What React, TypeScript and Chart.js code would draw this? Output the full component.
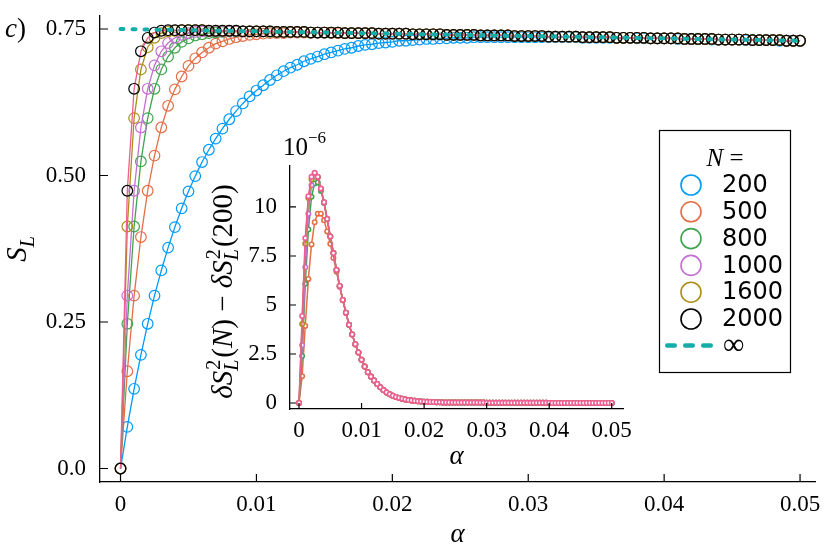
import React, { useEffect, useRef } from "react";
import { Chart, registerables } from "chart.js";

Chart.register(...registerables);

// ---------------- data ----------------
const ALPHA = [
  0, 0.0005, 0.001, 0.0015, 0.002, 0.0025, 0.003, 0.0035, 0.004, 0.0045,
  0.005, 0.0055, 0.006, 0.0065, 0.007, 0.0075, 0.008, 0.0085, 0.009, 0.0095,
  0.01, 0.0105, 0.011, 0.0115, 0.012, 0.0125, 0.013, 0.0135, 0.014, 0.0145,
  0.015, 0.0155, 0.016, 0.0165, 0.017, 0.0175, 0.018, 0.0185, 0.019, 0.0195,
  0.02, 0.0205, 0.021, 0.0215, 0.022, 0.0225, 0.023, 0.0235, 0.024, 0.0245,
  0.025, 0.0255, 0.026, 0.0265, 0.027, 0.0275, 0.028, 0.0285, 0.029, 0.0295,
  0.03, 0.0305, 0.031, 0.0315, 0.032, 0.0325, 0.033, 0.0335, 0.034, 0.0345,
  0.035, 0.0355, 0.036, 0.0365, 0.037, 0.0375, 0.038, 0.0385, 0.039, 0.0395,
  0.04, 0.0405, 0.041, 0.0415, 0.042, 0.0425, 0.043, 0.0435, 0.044, 0.0445,
  0.045, 0.0455, 0.046, 0.0465, 0.047, 0.0475, 0.048, 0.0485, 0.049, 0.0495,
  0.05,
];

const S_200 = [
  0, 0.071, 0.136, 0.194, 0.247, 0.295, 0.338, 0.377, 0.412, 0.444,
  0.473, 0.499, 0.523, 0.544, 0.563, 0.58, 0.596, 0.61, 0.623, 0.635,
  0.645, 0.654, 0.663, 0.671, 0.678, 0.684, 0.689, 0.695, 0.699, 0.703,
  0.707, 0.71, 0.713, 0.716, 0.718, 0.721, 0.723, 0.724, 0.726, 0.727,
  0.728, 0.73, 0.73, 0.731, 0.732, 0.733, 0.733, 0.734, 0.734, 0.735,
  0.735, 0.735, 0.736, 0.736, 0.736, 0.736, 0.736, 0.736, 0.736, 0.736,
  0.736, 0.736, 0.736, 0.736, 0.736, 0.736, 0.736, 0.736, 0.735, 0.735,
  0.735, 0.735, 0.735, 0.735, 0.735, 0.735, 0.734, 0.734, 0.734, 0.734,
  0.734, 0.734, 0.733, 0.733, 0.733, 0.733, 0.733, 0.732, 0.732, 0.732,
  0.732, 0.732, 0.731, 0.731, 0.731, 0.731, 0.731, 0.73, 0.73, 0.73,
  0.73,
];

const S_500 = [
  0, 0.166, 0.295, 0.395, 0.474, 0.534, 0.582, 0.619, 0.647, 0.669,
  0.687, 0.7, 0.71, 0.718, 0.725, 0.729, 0.733, 0.736, 0.738, 0.74,
  0.741, 0.742, 0.743, 0.743, 0.743, 0.744, 0.744, 0.744, 0.744, 0.744,
  0.744, 0.743, 0.743, 0.743, 0.743, 0.743, 0.743, 0.742, 0.742, 0.742,
  0.742, 0.742, 0.742, 0.741, 0.741, 0.741, 0.741, 0.741, 0.74, 0.74,
  0.74, 0.74, 0.74, 0.739, 0.739, 0.739, 0.739, 0.739, 0.738, 0.738,
  0.738, 0.738, 0.738, 0.737, 0.737, 0.737, 0.737, 0.737, 0.736, 0.736,
  0.736, 0.736, 0.736, 0.735, 0.735, 0.735, 0.735, 0.735, 0.734, 0.734,
  0.734, 0.734, 0.734, 0.733, 0.733, 0.733, 0.733, 0.733, 0.732, 0.732,
  0.732, 0.732, 0.732, 0.731, 0.731, 0.731, 0.731, 0.731, 0.73, 0.73,
  0.73,
];

const S_800 = [
  0, 0.247, 0.413, 0.524, 0.598, 0.648, 0.681, 0.703, 0.718, 0.728,
  0.734, 0.739, 0.741, 0.743, 0.744, 0.745, 0.746, 0.746, 0.746, 0.746,
  0.746, 0.746, 0.745, 0.745, 0.745, 0.745, 0.745, 0.745, 0.744, 0.744,
  0.744, 0.744, 0.744, 0.743, 0.743, 0.743, 0.743, 0.743, 0.742, 0.742,
  0.742, 0.742, 0.742, 0.741, 0.741, 0.741, 0.741, 0.741, 0.74, 0.74,
  0.74, 0.74, 0.74, 0.739, 0.739, 0.739, 0.739, 0.739, 0.738, 0.738,
  0.738, 0.738, 0.738, 0.737, 0.737, 0.737, 0.737, 0.737, 0.736, 0.736,
  0.736, 0.736, 0.736, 0.735, 0.735, 0.735, 0.735, 0.735, 0.734, 0.734,
  0.734, 0.734, 0.734, 0.733, 0.733, 0.733, 0.733, 0.733, 0.732, 0.732,
  0.732, 0.732, 0.732, 0.731, 0.731, 0.731, 0.731, 0.731, 0.73, 0.73,
  0.73,
];

const S_1000 = [
  0, 0.295, 0.474, 0.582, 0.648, 0.688, 0.712, 0.726, 0.735, 0.74,
  0.743, 0.745, 0.746, 0.746, 0.746, 0.746, 0.746, 0.746, 0.746, 0.746,
  0.746, 0.746, 0.746, 0.745, 0.745, 0.745, 0.745, 0.745, 0.744, 0.744,
  0.744, 0.744, 0.744, 0.743, 0.743, 0.743, 0.743, 0.743, 0.742, 0.742,
  0.742, 0.742, 0.742, 0.741, 0.741, 0.741, 0.741, 0.741, 0.74, 0.74,
  0.74, 0.74, 0.74, 0.739, 0.739, 0.739, 0.739, 0.739, 0.738, 0.738,
  0.738, 0.738, 0.738, 0.737, 0.737, 0.737, 0.737, 0.737, 0.736, 0.736,
  0.736, 0.736, 0.736, 0.735, 0.735, 0.735, 0.735, 0.735, 0.734, 0.734,
  0.734, 0.734, 0.734, 0.733, 0.733, 0.733, 0.733, 0.733, 0.732, 0.732,
  0.732, 0.732, 0.732, 0.731, 0.731, 0.731, 0.731, 0.731, 0.73, 0.73,
  0.73,
];

const S_1600 = [
  0, 0.413, 0.598, 0.681, 0.719, 0.735, 0.743, 0.746, 0.747, 0.748,
  0.748, 0.748, 0.748, 0.747, 0.747, 0.747, 0.747, 0.747, 0.746, 0.746,
  0.746, 0.746, 0.746, 0.745, 0.745, 0.745, 0.745, 0.745, 0.744, 0.744,
  0.744, 0.744, 0.744, 0.743, 0.743, 0.743, 0.743, 0.743, 0.742, 0.742,
  0.742, 0.742, 0.742, 0.741, 0.741, 0.741, 0.741, 0.741, 0.74, 0.74,
  0.74, 0.74, 0.74, 0.739, 0.739, 0.739, 0.739, 0.739, 0.738, 0.738,
  0.738, 0.738, 0.738, 0.737, 0.737, 0.737, 0.737, 0.737, 0.736, 0.736,
  0.736, 0.736, 0.736, 0.735, 0.735, 0.735, 0.735, 0.735, 0.734, 0.734,
  0.734, 0.734, 0.734, 0.733, 0.733, 0.733, 0.733, 0.733, 0.732, 0.732,
  0.732, 0.732, 0.732, 0.731, 0.731, 0.731, 0.731, 0.731, 0.73, 0.73,
  0.73,
];

const S_2000 = [
  0, 0.474, 0.648, 0.712, 0.735, 0.744, 0.747, 0.748, 0.748, 0.748,
  0.748, 0.748, 0.748, 0.747, 0.747, 0.747, 0.747, 0.747, 0.746, 0.746,
  0.746, 0.746, 0.746, 0.745, 0.745, 0.745, 0.745, 0.745, 0.744, 0.744,
  0.744, 0.744, 0.744, 0.743, 0.743, 0.743, 0.743, 0.743, 0.742, 0.742,
  0.742, 0.742, 0.742, 0.741, 0.741, 0.741, 0.741, 0.741, 0.74, 0.74,
  0.74, 0.74, 0.74, 0.739, 0.739, 0.739, 0.739, 0.739, 0.738, 0.738,
  0.738, 0.738, 0.738, 0.737, 0.737, 0.737, 0.737, 0.737, 0.736, 0.736,
  0.736, 0.736, 0.736, 0.735, 0.735, 0.735, 0.735, 0.735, 0.734, 0.734,
  0.734, 0.734, 0.734, 0.733, 0.733, 0.733, 0.733, 0.733, 0.732, 0.732,
  0.732, 0.732, 0.732, 0.731, 0.731, 0.731, 0.731, 0.731, 0.73, 0.73,
  0.73,
];

const INF_ALPHA = [0, 0.01, 0.02, 0.03, 0.04, 0.05];
const S_INF = [0.75, 0.746, 0.742, 0.738, 0.734, 0.73];

// inset: (δS_L^2(N) − δS_L^2(200)) in units of 1e-6
const D_500 = [
  0, 1.37, 3.93, 6.33, 8.09, 9.22, 9.66, 9.66, 9.32, 8.75,
  8.12, 7.4, 6.7, 5.93, 5.24, 4.6, 3.98, 3.49, 2.99, 2.57,
  2.2, 1.86, 1.57, 1.35, 1.15, 0.97, 0.8, 0.66, 0.54, 0.45,
  0.37, 0.31, 0.26, 0.22, 0.18, 0.15, 0.13, 0.11, 0.09, 0.08,
  0.07, 0.06, 0.05, 0.05, 0.04, 0.04, 0.03, 0.03, 0.03, 0.02,
  0.02, 0.02, 0.02, 0.02, 0.02, 0.02, 0.02, 0.02, 0.02, 0.02,
  0.01, 0.01, 0.01, 0.01, 0.01, 0.01, 0.01, 0.01, 0.01, 0.01,
  0.01, 0.01, 0.01, 0.01, 0.01, 0.01, 0.01, 0.01, 0.01, 0.01,
  0, 0, 0, 0, 0, 0, 0, 0, 0, 0,
  0, 0, 0, 0, 0, 0, 0, 0, 0, 0,
  0,
];

const D_800 = [
  0, 2.4, 6.08, 8.85, 10.52, 11.2, 11.25, 10.82, 10.2, 9.37,
  8.5, 7.65, 6.79, 5.97, 5.26, 4.61, 3.99, 3.5, 3.0, 2.58,
  2.2, 1.86, 1.57, 1.35, 1.15, 0.97, 0.8, 0.66, 0.54, 0.45,
  0.37, 0.31, 0.26, 0.22, 0.18, 0.15, 0.13, 0.11, 0.09, 0.08,
  0.07, 0.06, 0.05, 0.05, 0.04, 0.04, 0.03, 0.03, 0.03, 0.02,
  0.02, 0.02, 0.02, 0.02, 0.02, 0.02, 0.02, 0.02, 0.02, 0.02,
  0.01, 0.01, 0.01, 0.01, 0.01, 0.01, 0.01, 0.01, 0.01, 0.01,
  0.01, 0.01, 0.01, 0.01, 0.01, 0.01, 0.01, 0.01, 0.01, 0.01,
  0, 0, 0, 0, 0, 0, 0, 0, 0, 0,
  0, 0, 0, 0, 0, 0, 0, 0, 0, 0,
  0,
];

const D_1000 = [
  0, 2.95, 6.93, 9.66, 11.11, 11.55, 11.5, 10.92, 10.23, 9.38,
  8.5, 7.65, 6.79, 5.97, 5.26, 4.61, 3.99, 3.5, 3.0, 2.58,
  2.2, 1.86, 1.57, 1.35, 1.15, 0.97, 0.8, 0.66, 0.54, 0.45,
  0.37, 0.31, 0.26, 0.22, 0.18, 0.15, 0.13, 0.11, 0.09, 0.08,
  0.07, 0.06, 0.05, 0.05, 0.04, 0.04, 0.03, 0.03, 0.03, 0.02,
  0.02, 0.02, 0.02, 0.02, 0.02, 0.02, 0.02, 0.02, 0.02, 0.02,
  0.01, 0.01, 0.01, 0.01, 0.01, 0.01, 0.01, 0.01, 0.01, 0.01,
  0.01, 0.01, 0.01, 0.01, 0.01, 0.01, 0.01, 0.01, 0.01, 0.01,
  0, 0, 0, 0, 0, 0, 0, 0, 0, 0,
  0, 0, 0, 0, 0, 0, 0, 0, 0, 0,
  0,
];

const D_1600 = [
  0, 4.03, 8.12, 10.46, 11.4, 11.7, 11.53, 10.93, 10.24, 9.39,
  8.5, 7.65, 6.79, 5.97, 5.26, 4.61, 3.99, 3.5, 3.0, 2.58,
  2.2, 1.86, 1.57, 1.35, 1.15, 0.97, 0.8, 0.66, 0.54, 0.45,
  0.37, 0.31, 0.26, 0.22, 0.18, 0.15, 0.13, 0.11, 0.09, 0.08,
  0.07, 0.06, 0.05, 0.05, 0.04, 0.04, 0.03, 0.03, 0.03, 0.02,
  0.02, 0.02, 0.02, 0.02, 0.02, 0.02, 0.02, 0.02, 0.02, 0.02,
  0.01, 0.01, 0.01, 0.01, 0.01, 0.01, 0.01, 0.01, 0.01, 0.01,
  0.01, 0.01, 0.01, 0.01, 0.01, 0.01, 0.01, 0.01, 0.01, 0.01,
  0, 0, 0, 0, 0, 0, 0, 0, 0, 0,
  0, 0, 0, 0, 0, 0, 0, 0, 0, 0,
  0,
];

const D_2000 = [
  0, 4.44, 8.41, 10.55, 11.54, 11.74, 11.54, 10.94, 10.24, 9.39,
  8.5, 7.65, 6.79, 5.97, 5.26, 4.61, 3.99, 3.5, 3.0, 2.58,
  2.2, 1.86, 1.57, 1.35, 1.15, 0.97, 0.8, 0.66, 0.54, 0.45,
  0.37, 0.31, 0.26, 0.22, 0.18, 0.15, 0.13, 0.11, 0.09, 0.08,
  0.07, 0.06, 0.05, 0.05, 0.04, 0.04, 0.03, 0.03, 0.03, 0.02,
  0.02, 0.02, 0.02, 0.02, 0.02, 0.02, 0.02, 0.02, 0.02, 0.02,
  0.01, 0.01, 0.01, 0.01, 0.01, 0.01, 0.01, 0.01, 0.01, 0.01,
  0.01, 0.01, 0.01, 0.01, 0.01, 0.01, 0.01, 0.01, 0.01, 0.01,
  0, 0, 0, 0, 0, 0, 0, 0, 0, 0,
  0, 0, 0, 0, 0, 0, 0, 0, 0, 0,
  0,
];

const N_LABELS = ["200", "500", "800", "1000", "1600", "2000"];
const INF_LABEL = "∞";

const MAIN_X_TICKS = [0, 0.01, 0.02, 0.03, 0.04, 0.05];
const MAIN_X_LABELS = ["0", "0.01", "0.02", "0.03", "0.04", "0.05"];
const MAIN_Y_TICKS = [0, 0.25, 0.5, 0.75];
const MAIN_Y_LABELS = ["0.0", "0.25", "0.50", "0.75"];

const INSET_X_TICKS = [0, 0.01, 0.02, 0.03, 0.04, 0.05];
const INSET_X_LABELS = ["0", "0.01", "0.02", "0.03", "0.04", "0.05"];
const INSET_Y_TICKS = [0, 2.5, 5, 7.5, 10];
const INSET_Y_LABELS = ["0", "2.5", "5", "7.5", "10"];

// ---------------- style ----------------
const C_BLUE = "#009AFA";
const C_ORANGE = "#E36F47";
const C_GREEN = "#3EA44E";
const C_PURPLE = "#C371D2";
const C_GOLD = "#AC8E18";
const C_PINK = "#ED5E93";
const C_TEAL = "#14ADA9";
const N_COLORS = [C_BLUE, C_ORANGE, C_GREEN, C_PURPLE, C_GOLD, "#000000"];

const SERIF = '"Liberation Serif", "DejaVu Serif", serif';
const SANS = '"DejaVu Sans", sans-serif';

type Seg =
  | { t: string; font: string; dy?: number }
  | { sup: string; sub: string; supFont: string; subFont: string; supDy: number; subDy: number };

function segW(ctx: CanvasRenderingContext2D, s: Seg): number {
  if ("t" in s) {
    ctx.font = s.font;
    return ctx.measureText(s.t).width;
  }
  ctx.font = s.supFont;
  const a = ctx.measureText(s.sup).width;
  ctx.font = s.subFont;
  const b = ctx.measureText(s.sub).width;
  return Math.max(a, b) + 2;
}

function drawSegs(ctx: CanvasRenderingContext2D, segs: Seg[], x: number, y: number, center: boolean) {
  ctx.textAlign = "left";
  ctx.textBaseline = "alphabetic";
  let total = 0;
  for (const s of segs) total += segW(ctx, s);
  let cx = center ? x - total / 2 : x;
  for (const s of segs) {
    const w = segW(ctx, s);
    if ("t" in s) {
      ctx.font = s.font;
      ctx.fillText(s.t, cx, y + (s.dy || 0));
    } else {
      ctx.font = s.supFont;
      ctx.fillText(s.sup, cx + 1, y + s.supDy);
      ctx.font = s.subFont;
      ctx.fillText(s.sub, cx, y + s.subDy);
    }
    cx += w;
  }
}

const mainDecor = {
  id: "mainDecor",
  afterDraw(chart: any) {
    const { ctx, chartArea: a } = chart;
    const xs = chart.scales.x;
    const ys = chart.scales.y;
    ctx.save();
    // inward ticks
    ctx.strokeStyle = "#000";
    ctx.lineWidth = 1.2;
    ctx.beginPath();
    for (const v of MAIN_X_TICKS) {
      const p = xs.getPixelForValue(v);
      ctx.moveTo(p, a.bottom);
      ctx.lineTo(p, a.bottom - 8);
    }
    for (const v of MAIN_Y_TICKS) {
      const p = ys.getPixelForValue(v);
      ctx.moveTo(a.left, p);
      ctx.lineTo(a.left + 8, p);
    }
    ctx.stroke();

    ctx.fillStyle = "#000";
    // x title
    drawSegs(ctx, [{ t: "α", font: `italic 27px ${SERIF}` }], (a.left + a.right) / 2, a.bottom + 60, true);
    // y title S_L
    ctx.save();
    ctx.translate(26, (a.top + a.bottom) / 2);
    ctx.rotate(-Math.PI / 2);
    drawSegs(
      ctx,
      [
        { t: "S", font: `italic 29px ${SERIF}` },
        { t: "L", font: `italic 20px ${SERIF}`, dy: 8 },
      ],
      0,
      0,
      true
    );
    ctx.restore();
    // panel label
    drawSegs(
      ctx,
      [
        { t: "c", font: `italic 27px ${SERIF}` },
        { t: ")", font: `27px ${SERIF}` },
      ],
      5,
      37,
      false
    );

    // legend
    const bx = 659.5, by = 130.5, bw = 131, bh = 242;
    ctx.fillStyle = "#fff";
    ctx.fillRect(bx, by, bw, bh);
    ctx.strokeStyle = "#000";
    ctx.lineWidth = 1.2;
    ctx.strokeRect(bx, by, bw, bh);
    ctx.fillStyle = "#000";
    drawSegs(
      ctx,
      [
        { t: "N", font: `italic 25px ${SERIF}` },
        { t: " =", font: `25px ${SERIF}` },
      ],
      bx + bw / 2,
      166,
      true
    );
    for (let i = 0; i < N_LABELS.length; i++) {
      const cy = 185 + i * 26.8;
      ctx.beginPath();
      ctx.strokeStyle = N_COLORS[i];
      ctx.lineWidth = 1.6;
      ctx.arc(691, cy, 10, 0, Math.PI * 2);
      ctx.stroke();
      ctx.fillStyle = "#000";
      ctx.font = `24px ${SANS}`;
      ctx.textAlign = "left";
      ctx.textBaseline = "middle";
      ctx.fillText(N_LABELS[i], 722, cy + 1);
    }
    const iy = 345.5;
    ctx.beginPath();
    ctx.strokeStyle = C_TEAL;
    ctx.lineWidth = 4.5;
    ctx.lineCap = "round";
    ctx.setLineDash([7.5, 10.5]);
    ctx.moveTo(667.25, iy);
    ctx.lineTo(713, iy);
    ctx.stroke();
    ctx.setLineDash([]);
    ctx.fillStyle = "#000";
    ctx.font = `30px ${SERIF}`;
    ctx.textAlign = "left";
    ctx.textBaseline = "middle";
    ctx.fillText(INF_LABEL, 723, iy + 1);
    ctx.restore();
  },
};

const insetDecor = {
  id: "insetDecor",
  afterDraw(chart: any) {
    const { ctx, chartArea: a } = chart;
    const xs = chart.scales.x;
    const ys = chart.scales.y;
    ctx.save();
    ctx.strokeStyle = "#000";
    ctx.lineWidth = 1.2;
    ctx.beginPath();
    for (const v of INSET_X_TICKS) {
      const p = xs.getPixelForValue(v);
      ctx.moveTo(p, a.bottom);
      ctx.lineTo(p, a.bottom - 6);
    }
    for (const v of INSET_Y_TICKS) {
      const p = ys.getPixelForValue(v);
      ctx.moveTo(a.left, p);
      ctx.lineTo(a.left + 6, p);
    }
    ctx.stroke();
    ctx.fillStyle = "#000";
    drawSegs(ctx, [{ t: "α", font: `italic 27px ${SERIF}` }], (a.left + a.right) / 2, a.bottom + 55, true);
    // 10^-6
    drawSegs(
      ctx,
      [
        { t: "10", font: `25px ${SERIF}` },
        { t: "−6", font: `17px ${SERIF}`, dy: -12 },
      ],
      a.left - 7,
      a.top - 11,
      false
    );
    // y title
    const F = `italic 29px ${SERIF}`;
    const U = `29px ${SERIF}`;
    const scr: Seg = {
      sup: "2",
      sub: "L",
      supFont: `20px ${SERIF}`,
      subFont: `italic 20px ${SERIF}`,
      supDy: -12,
      subDy: 6,
    };
    ctx.save();
    ctx.translate(42, (a.top + a.bottom) / 2 + 4);
    ctx.rotate(-Math.PI / 2);
    drawSegs(
      ctx,
      [
        { t: "δS", font: F },
        scr,
        { t: "(", font: U },
        { t: "N", font: F },
        { t: ") − ", font: U },
        { t: "δS", font: F },
        scr,
        { t: "(200)", font: U },
      ],
      0,
      0,
      true
    );
    ctx.restore();
    ctx.restore();
  },
};

function pts(xs: number[], ys: number[]) {
  return xs.map((x, i) => ({ x, y: ys[i] }));
}

function withOrder(ds: any[]) {
  return ds.map((d, i) => ({ ...d, order: ds.length - i }));
}

function axis(min: number, max: number, values: number[], labels: string[], pad: number, size: number, isX: boolean) {
  return {
    type: "linear",
    min,
    max,
    afterBuildTicks: (s: any) => {
      s.ticks = values.map((v) => ({ value: v }));
    },
    afterFit: (s: any) => {
      if (isX) s.height = size;
      else s.width = size;
      s.paddingTop = 0;
      s.paddingBottom = 0;
      s.paddingLeft = 0;
      s.paddingRight = 0;
    },
    grid: { display: false, drawTicks: false },
    border: { display: true, color: "#000", width: 1.3 },
    ticks: {
      autoSkip: false,
      maxRotation: 0,
      minRotation: 0,
      padding: pad,
      color: "#000",
      font: { family: SERIF, size: 23 },
      callback: (_v: any, i: number) => labels[i],
    },
  };
}

function mainLine(ys: number[], color: string, pointColor?: string) {
  return {
    data: pts(ALPHA, ys),
    borderColor: color,
    borderWidth: 1.3,
    pointRadius: 5.3,
    pointBorderWidth: 1.2,
    pointBorderColor: pointColor || color,
    pointBackgroundColor: "rgba(0,0,0,0)",
    pointStyle: "circle",
    tension: 0,
    fill: false,
  };
}

function insetLine(ys: number[], color: string) {
  return {
    data: pts(ALPHA, ys),
    borderColor: color,
    borderWidth: 1.5,
    pointRadius: 2.2,
    pointBorderWidth: 1.6,
    pointBorderColor: color,
    pointBackgroundColor: "#ffffff",
    pointStyle: "circle",
    tension: 0,
    fill: false,
  };
}

export default function App() {
  const mainRef = useRef<HTMLCanvasElement>(null);
  const insetRef = useRef<HTMLCanvasElement>(null);

  useEffect(() => {
    const mainDatasets = withOrder([
      mainLine(S_200, C_BLUE),
      mainLine(S_500, C_ORANGE),
      mainLine(S_800, C_GREEN),
      mainLine(S_1000, C_PURPLE),
      mainLine(S_1600, C_GOLD),
      mainLine(S_2000, C_PINK, "#000000"),
      {
        data: pts(INF_ALPHA, S_INF),
        borderColor: C_TEAL,
        borderWidth: 4,
        borderDash: [3, 9],
        borderCapStyle: "round",
        pointRadius: 0,
        tension: 0,
        fill: false,
      },
    ]);

    const main = new Chart(mainRef.current as HTMLCanvasElement, {
      type: "line",
      data: { datasets: mainDatasets as any },
      options: {
        responsive: false,
        maintainAspectRatio: false,
        animation: false,
        events: [],
        layout: { padding: { left: 0, top: 16, right: 15, bottom: 0 } },
        plugins: { legend: { display: false }, tooltip: { enabled: false } },
        scales: {
          x: axis(-0.00151, 0.0511, MAIN_X_TICKS, MAIN_X_LABELS, 9, 72, true) as any,
          y: axis(-0.023, 0.7722, MAIN_Y_TICKS, MAIN_Y_LABELS, 14, 100, false) as any,
        },
      },
      plugins: [mainDecor],
    });

    const insetDatasets = withOrder([
      insetLine(D_500, C_ORANGE),
      insetLine(D_800, C_GREEN),
      insetLine(D_1000, C_PURPLE),
      insetLine(D_1600, C_GOLD),
      insetLine(D_2000, C_PINK),
    ]);

    const inset = new Chart(insetRef.current as HTMLCanvasElement, {
      type: "line",
      data: { datasets: insetDatasets as any },
      options: {
        responsive: false,
        maintainAspectRatio: false,
        animation: false,
        events: [],
        layout: { padding: { left: 0, top: 46, right: 17, bottom: 0 } },
        plugins: { legend: { display: false }, tooltip: { enabled: false } },
        scales: {
          x: axis(-0.00144, 0.0518, INSET_X_TICKS, INSET_X_LABELS, 8, 71, true) as any,
          y: axis(-0.306, 12.09, INSET_Y_TICKS, INSET_Y_LABELS, 13, 100, false) as any,
        },
      },
      plugins: [insetDecor],
    });

    return () => {
      main.destroy();
      inset.destroy();
    };
  }, []);

  return (
    <div style={{ position: "absolute", left: 0, top: 0, width: 830, height: 554, background: "#fff" }}>
      <canvas ref={mainRef} width={830} height={554} style={{ position: "absolute", left: 0, top: 0 }} />
      <canvas ref={insetRef} width={450} height={360} style={{ position: "absolute", left: 190, top: 120 }} />
    </div>
  );
}
